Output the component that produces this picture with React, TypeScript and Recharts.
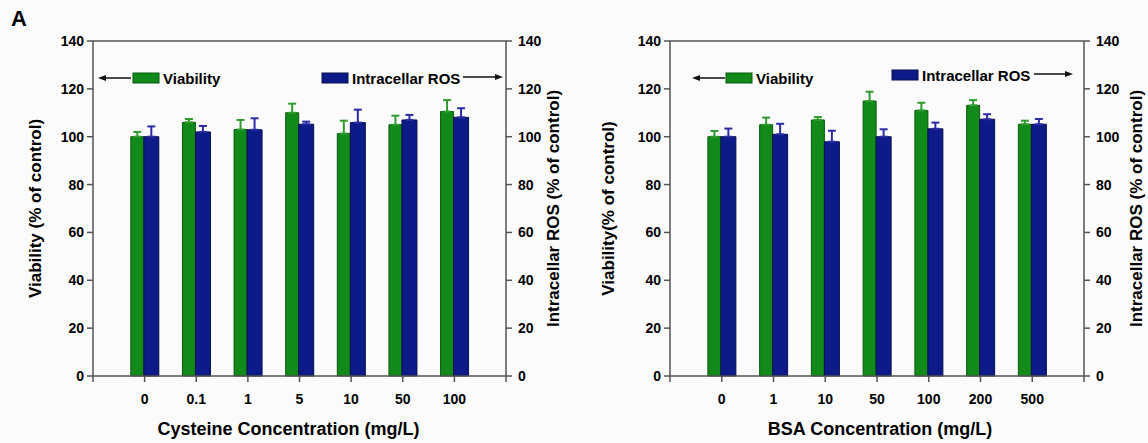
import React from 'react';
import { BarChart, Bar, XAxis, YAxis, ErrorBar, ReferenceLine, Legend } from 'recharts';

// Panel 1: cysteine
const cysteineLabels = ['0', '0.1', '1', '5', '10', '50', '100'];
const cysteineViability = [100, 106, 103, 110, 101.3, 105, 110.5];
const cysteineViabilityErr = [2, 1.4, 4, 3.8, 5.4, 3.8, 4.8];
const cysteineRos = [100, 102, 102.9, 105.2, 105.9, 107, 108.1];
const cysteineRosErr = [4.3, 2.5, 4.8, 1.1, 5.4, 2.1, 3.8];

// Panel 2: BSA
const bsaLabels = ['0', '1', '10', '50', '100', '200', '500'];
const bsaViability = [100, 105, 107, 114.9, 111, 113.1, 105.2];
const bsaViabilityErr = [2.4, 3, 1.2, 3.9, 3.2, 2.2, 1.5];
const bsaRos = [100, 101, 97.9, 100, 103.3, 107.3, 105.2];
const bsaRosErr = [3.4, 4.4, 4.6, 3.1, 2.6, 2.1, 2.2];

const yTicks = [0, 20, 40, 60, 80, 100, 120, 140];

const FONT = '"Liberation Sans", Arial, sans-serif';
const GREEN = '#128a19';
const GREEN_EDGE = '#0b5810';
const GREEN_ERR = '#2f9b2f';
const BLUE = '#0c1b88';
const BLUE_EDGE = '#060f4c';
const BLUE_ERR = '#2b2ba6';
const AXIS = '#555';

const W = 574;
const H = 443;

function buildRows(via: number[], viaErr: number[], ros: number[], rosErr: number[]) {
  return via.map((v, i) => ({
    x: i + 1,
    via: v,
    viaErr: [0, viaErr[i]],
    ros: ros[i],
    rosErr: [0, rosErr[i]],
  }));
}

function Arrow({ x1, x2, y }: { x1: number; x2: number; y: number }) {
  const dir = x2 > x1 ? 1 : -1;
  return (
    <g>
      <line x1={x1} y1={y} x2={x2 - dir * 6} y2={y} stroke="#111" strokeWidth={1.5} />
      <polygon points={`${x2},${y} ${x2 - dir * 8},${y - 3} ${x2 - dir * 8},${y + 3}`} fill="#111" />
    </g>
  );
}

type LegendPos = {
  arrowL: [number, number, number];
  greenBox: [number, number];
  blueBox: [number, number];
  arrowR: [number, number, number];
};

function makeLegend(pos: LegendPos) {
  return (props: any) => {
    const items: any[] = props.payload || [];
    const via = items.find((d) => d.dataKey === 'via');
    const ros = items.find((d) => d.dataKey === 'ros');
    return (
      <svg width={W} height={H} style={{ position: 'absolute', left: 0, top: 0, overflow: 'visible' }}>
        <Arrow x1={pos.arrowL[1]} x2={pos.arrowL[0]} y={pos.arrowL[2]} />
        <rect x={pos.greenBox[0]} y={pos.greenBox[1]} width={26} height={10} fill={GREEN} stroke={GREEN_EDGE} />
        <text x={pos.greenBox[0] + 30} y={pos.greenBox[1] + 5} dominantBaseline="central"
          fontFamily={FONT} fontWeight={700} fontSize={15} fill="#000">{via ? via.value : ''}</text>
        <rect x={pos.blueBox[0]} y={pos.blueBox[1]} width={26} height={10} fill={BLUE} stroke={BLUE_EDGE} />
        <text x={pos.blueBox[0] + 30} y={pos.blueBox[1] + 5} dominantBaseline="central"
          fontFamily={FONT} fontWeight={700} fontSize={15} fill="#000">{ros ? ros.value : ''}</text>
        <Arrow x1={pos.arrowR[0]} x2={pos.arrowR[1]} y={pos.arrowR[2]} />
      </svg>
    );
  };
}

type PanelProps = {
  left: number;
  labels: string[];
  rows: ReturnType<typeof buildRows>;
  xTitle: string;
  xTitleDx: number;
  yTitle: string;
  marginLeft: number;
  yWidth: number;
  yTitleOffset: number;
  marginRight: number;
  rTitleOffset: number;
  legend: LegendPos;
};

const tickStyle = { fill: '#000', fontSize: 14, fontWeight: 700, fontFamily: FONT };
const yTitleStyle = { fill: '#000', fontSize: 17, fontWeight: 700, fontFamily: FONT, textAnchor: 'middle' as const };
const xTitleStyle = { ...yTitleStyle, fontSize: 18 };

function Panel(p: PanelProps) {
  return (
    <div style={{ position: 'absolute', left: p.left, top: 0 }}>
      <BarChart
        width={W}
        height={H}
        data={p.rows}
        barGap={0}
        margin={{ top: 41, right: p.marginRight, bottom: 7, left: p.marginLeft }}
      >
        <XAxis
          dataKey="x"
          type="number"
          domain={[0, 8]}
          ticks={[0, 1, 2, 3, 4, 5, 6, 7, 8]}
          interval={0}
          tickFormatter={(v: number) => p.labels[v - 1] ?? ''}
          tick={tickStyle}
          tickSize={6}
          tickMargin={12}
          height={60}
          stroke={AXIS}
          strokeWidth={1.5}
          label={{ value: p.xTitle, position: 'insideBottom', offset: 1, dx: p.xTitleDx, style: xTitleStyle }}
        />
        <YAxis
          yAxisId="left"
          domain={[0, 140]}
          ticks={yTicks}
          interval={0}
          width={p.yWidth}
          tick={tickStyle}
          tickSize={6}
          tickMargin={3}
          stroke={AXIS}
          strokeWidth={1.5}
          label={{ value: p.yTitle, angle: -90, position: 'insideLeft', offset: p.yTitleOffset, style: yTitleStyle }}
        />
        <YAxis
          yAxisId="right"
          orientation="right"
          domain={[0, 140]}
          ticks={yTicks}
          interval={0}
          width={60}
          tick={tickStyle}
          tickSize={6}
          tickMargin={6}
          stroke={AXIS}
          strokeWidth={1.5}
          label={{ value: 'Intracellar ROS (% of control)', angle: -90, position: 'insideRight', offset: p.rTitleOffset, style: yTitleStyle }}
        />
        <ReferenceLine yAxisId="left" y={140} stroke={AXIS} strokeWidth={1.5} />
        <Legend
          layout="horizontal"
          verticalAlign="middle"
          align="center"
          wrapperStyle={{ left: 0, top: 0, width: W, height: 0, overflow: 'visible' }}
          content={makeLegend(p.legend)}
        />
        <Bar yAxisId="left" dataKey="via" name="Viability" barSize={13} fill={GREEN} stroke={GREEN_EDGE} strokeWidth={1} isAnimationActive={false}>
          <ErrorBar dataKey="viaErr" width={4} stroke={GREEN_ERR} strokeWidth={2} direction="y" />
        </Bar>
        <Bar yAxisId="right" dataKey="ros" name="Intracellar ROS" barSize={15} fill={BLUE} stroke={BLUE_EDGE} strokeWidth={1} isAnimationActive={false}>
          <ErrorBar dataKey="rosErr" width={4} stroke={BLUE_ERR} strokeWidth={2} direction="y" />
        </Bar>
      </BarChart>
    </div>
  );
}

export default function App() {
  return (
    <div style={{ position: 'absolute', left: 0, top: 0, width: 1148, height: 443, background: '#fbfbfb', overflow: 'hidden' }}>
      <div style={{ position: 'absolute', left: 11, top: 6, fontFamily: FONT, fontWeight: 700, fontSize: 22, color: '#000' }}>A</div>
      <Panel
        left={0}
        labels={cysteineLabels}
        rows={buildRows(cysteineViability, cysteineViabilityErr, cysteineRos, cysteineRosErr)}
        xTitle="Cysteine Concentration (mg/L)"
        xTitleDx={-11}
        yTitle="Viability (% of control)"
        marginLeft={20}
        yWidth={73}
        yTitleOffset={15}
        marginRight={8}
        rTitleOffset={13}
        legend={{ arrowL: [98, 131, 78], greenBox: [133, 73], blueBox: [322, 73], arrowR: [463, 503, 77] }}
      />
      <Panel
        left={574}
        labels={bsaLabels}
        rows={buildRows(bsaViability, bsaViabilityErr, bsaRos, bsaRosErr)}
        xTitle="BSA Concentration (mg/L)"
        xTitleDx={3}
        yTitle="Viability(% of control)"
        marginLeft={21}
        yWidth={75}
        yTitleOffset={13}
        marginRight={4}
        rTitleOffset={8}
        legend={{ arrowL: [118, 151, 78], greenBox: [152, 73], blueBox: [318, 70], arrowR: [460, 499, 74] }}
      />
    </div>
  );
}
